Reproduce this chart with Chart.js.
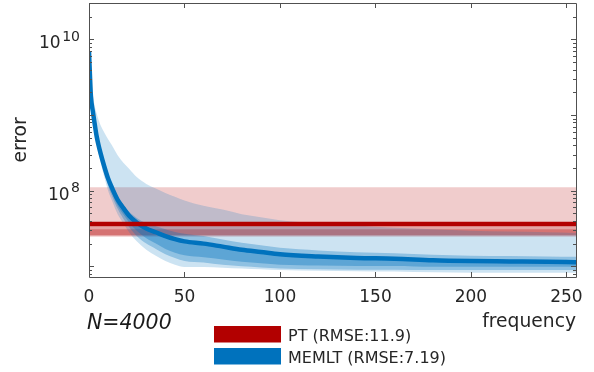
<!DOCTYPE html>
<html>
  <head>
    <meta charset="utf-8" />
    <title>error vs frequency</title>
    <script src="https://cdn.jsdelivr.net/npm/chart.js"></script>
    <style>
      * {
        box-sizing: border-box;
        margin: 0;
        padding: 0;
      }
      body {
        background: #fff;
      }
    </style>
  </head>
  <body>
    <canvas id="err" width="594" height="372"></canvas>

    <script>
      // frequency samples (x)
      const freq = [0, 1, 2, 3, 4, 5, 6, 8, 10, 12, 15, 18, 21, 25, 30, 35, 40, 45, 50, 60, 70, 80, 90, 100, 120, 140, 160, 180, 200, 220, 240, 255];

      // MEMLT, values as log10(error)
      const memltMed = [9.84, 9.25, 9.05, 8.88, 8.72, 8.6, 8.5, 8.32, 8.16, 8.04, 7.88, 7.77, 7.67, 7.58, 7.5, 7.45, 7.4, 7.36, 7.33, 7.3, 7.26, 7.22, 7.19, 7.16, 7.13, 7.11, 7.1, 7.08, 7.07, 7.065, 7.06, 7.055];
      const memltInnerHi = [9.84, 9.26, 9.065, 8.895, 8.735, 8.615, 8.515, 8.335, 8.175, 8.055, 7.895, 7.785, 7.685, 7.595, 7.515, 7.465, 7.415, 7.375, 7.345, 7.315, 7.275, 7.235, 7.205, 7.175, 7.145, 7.125, 7.115, 7.095, 7.085, 7.08, 7.075, 7.07];
      const memltInnerLo = [9.84, 9.23, 9.02, 8.845, 8.68, 8.555, 8.45, 8.26, 8.09, 7.965, 7.8, 7.685, 7.58, 7.47, 7.37, 7.3, 7.23, 7.18, 7.145, 7.12, 7.09, 7.06, 7.04, 7.02, 7.01, 7.005, 7.005, 6.995, 6.995, 6.995, 6.995, 6.995];
      const memltMidHi = [9.84, 9.27, 9.08, 8.91, 8.755, 8.635, 8.54, 8.36, 8.2, 8.08, 7.92, 7.815, 7.72, 7.64, 7.57, 7.53, 7.49, 7.455, 7.43, 7.4, 7.355, 7.31, 7.278, 7.245, 7.21, 7.185, 7.173, 7.152, 7.14, 7.135, 7.13, 7.125];
      const memltMidLo = [9.84, 9.22, 9.01, 8.83, 8.66, 8.53, 8.42, 8.23, 8.06, 7.93, 7.76, 7.63, 7.52, 7.4, 7.3, 7.23, 7.16, 7.11, 7.07, 7.05, 7.02, 7.0, 6.985, 6.97, 6.96, 6.955, 6.955, 6.95, 6.95, 6.95, 6.95, 6.95];
      const memltOuterHi = [9.84, 9.42, 9.27, 9.12, 9.02, 8.94, 8.87, 8.77, 8.68, 8.6, 8.47, 8.37, 8.29, 8.18, 8.09, 8.03, 7.97, 7.92, 7.87, 7.8, 7.75, 7.69, 7.65, 7.61, 7.57, 7.54, 7.51, 7.49, 7.47, 7.46, 7.45, 7.44];
      const memltOuterLo = [9.84, 9.21, 8.99, 8.8, 8.62, 8.49, 8.38, 8.18, 8.0, 7.87, 7.69, 7.57, 7.45, 7.33, 7.22, 7.14, 7.07, 7.02, 6.99, 6.99, 6.98, 6.97, 6.96, 6.95, 6.94, 6.935, 6.93, 6.92, 6.915, 6.915, 6.915, 6.915];

      // PT is flat over the whole range, log10(error)
      const ptFreq = [0, 255];
      const ptMed = [7.56, 7.56];
      const ptInnerLo = [7.415, 7.415];
      const ptInnerHi = [7.49, 7.49];
      const ptMidLo = [7.4, 7.4];
      const ptMidHi = [7.53, 7.53];
      const ptOuterLo = [7.39, 7.39];
      const ptOuterHi = [8.045, 8.045];

      const legendLabels = ["PT (RMSE:11.9)", "MEMLT (RMSE:7.19)"];
      const xTickValues = [0, 50, 100, 150, 200, 250];
      const yTickValues = [
        8e6, 9e6,
        1e7, 2e7, 3e7, 4e7, 5e7, 6e7, 7e7, 8e7, 9e7,
        1e8, 2e8, 3e8, 4e8, 5e8, 6e8, 7e8, 8e8, 9e8,
        1e9, 2e9, 3e9, 4e9, 5e9, 6e9, 7e9, 8e9, 9e9,
        1e10, 2e10, 3e10,
      ];
      // labelled decades: 10^8 and 10^10
      const yLabelValues = [1e8, 1e10];
      const yLabelExps = ["8", "10"];

      const RED = "rgb(178,0,0)";
      const BLUE = "rgb(0,114,189)";
      const FONT = '"DejaVu Sans"';

      const pts = (xs, ys) => xs.map((x, i) => ({ x: x, y: Math.pow(10, ys[i]) }));

      const line = (label, xs, ys, color) => ({
        label: label,
        data: pts(xs, ys),
        borderColor: color,
        backgroundColor: color,
        borderWidth: 4.5,
        fill: false,
      });
      // a pair of datasets, the second one fills down to the first
      const band = (xs, lo, hi, fillColor) => [
        { data: pts(xs, lo), borderWidth: 0, borderColor: "transparent", fill: false },
        { data: pts(xs, hi), borderWidth: 0, borderColor: "transparent", backgroundColor: fillColor, fill: "-1" },
      ];

      const datasets = [
        line(legendLabels[0], ptFreq, ptMed, RED),
        line(legendLabels[1], freq, memltMed, BLUE),
        ...band(freq, memltInnerLo, memltInnerHi, "rgba(0,114,189,0.35)"),
        ...band(freq, memltMidLo, memltMidHi, "rgba(0,114,189,0.3)"),
        ...band(freq, memltOuterLo, memltOuterHi, "rgba(0,114,189,0.2)"),
        ...band(ptFreq, ptInnerLo, ptInnerHi, "rgba(178,0,0,0.3)"),
        ...band(ptFreq, ptMidLo, ptMidHi, "rgba(178,0,0,0.2)"),
        ...band(ptFreq, ptOuterLo, ptOuterHi, "rgba(178,0,0,0.2)"),
      ];

      // MATLAB style box with inward ticks, 10^n labels, legend and the N label
      const matlabAxes = {
        id: "matlabAxes",
        afterDatasetsDraw(chart) {
          const { ctx, chartArea: a, scales } = chart;
          ctx.save();
          ctx.strokeStyle = "#505050";
          ctx.lineWidth = 1;
          ctx.beginPath();
          ctx.rect(a.left + 0.5, a.top + 0.5, a.right - a.left, a.bottom - a.top);
          scales.y.ticks.forEach((t) => {
            const py = Math.round(scales.y.getPixelForValue(t.value)) + 0.5;
            const e = Math.log10(t.value);
            const len = Math.abs(e - Math.round(e)) < 1e-9 ? 5 : 3;
            ctx.moveTo(a.left, py);
            ctx.lineTo(a.left + len, py);
            ctx.moveTo(a.right, py);
            ctx.lineTo(a.right - len, py);
          });
          scales.x.ticks.forEach((t) => {
            const px = Math.round(scales.x.getPixelForValue(t.value)) + 0.5;
            ctx.moveTo(px, a.bottom);
            ctx.lineTo(px, a.bottom - 5);
            ctx.moveTo(px, a.top);
            ctx.lineTo(px, a.top + 5);
          });
          ctx.stroke();

          // y tick labels as 10 with a raised exponent
          ctx.fillStyle = "#262626";
          ctx.textBaseline = "alphabetic";
          ctx.textAlign = "left";
          const right = a.left - 9;
          yLabelValues.forEach((v, i) => {
            const py = scales.y.getPixelForValue(v);
            ctx.font = "14px " + FONT;
            const ew = ctx.measureText(yLabelExps[i]).width;
            ctx.fillText(yLabelExps[i], right - ew, py + 1.7);
            ctx.font = "17px " + FONT;
            const bw = ctx.measureText("10").width;
            ctx.fillText("10", right - ew - 1.5 - bw, py + 9);
          });
          ctx.restore();
        },
        afterDraw(chart) {
          const ctx = chart.ctx;
          ctx.save();
          ctx.fillStyle = "#1a1a1a";
          ctx.font = "italic 20.5px " + FONT;
          ctx.textBaseline = "alphabetic";
          ctx.fillText("N=4000", 87, 329);

          const colors = [RED, BLUE];
          ctx.font = "16px " + FONT;
          legendLabels.forEach((label, i) => {
            const y = 326 + i * 22;
            ctx.fillStyle = colors[i];
            ctx.fillRect(214, y, 67, 16.5);
            ctx.fillStyle = "#262626";
            ctx.fillText(label, 288, y + 15);
          });
          ctx.restore();
        },
      };

      new Chart(document.getElementById("err"), {
        type: "line",
        data: { datasets: datasets },
        plugins: [matlabAxes],
        options: {
          responsive: false,
          animation: false,
          layout: { padding: { top: 3, right: 18, left: 0, bottom: 0 } },
          elements: {
            point: { radius: 0 },
            line: { cubicInterpolationMode: "monotone" },
          },
          scales: {
            x: {
              type: "linear",
              min: 0,
              max: 255,
              grid: { display: false, drawTicks: false },
              border: { display: false },
              afterBuildTicks: (s) => {
                s.ticks = xTickValues.map((v) => ({ value: v }));
              },
              afterFit: (s) => {
                s.height = 95;
                s.paddingLeft = 0;
                s.paddingRight = 0;
              },
              ticks: {
                autoSkip: false,
                maxRotation: 0,
                padding: 10,
                color: "#262626",
                font: { size: 17, family: FONT },
              },
              title: {
                display: true,
                text: "frequency",
                align: "end",
                color: "#262626",
                font: { size: 18.7, family: FONT },
                padding: { top: 0, bottom: 39 },
              },
            },
            y: {
              type: "logarithmic",
              min: 7.219e6,
              max: 3.039e10,
              grid: { display: false, drawTicks: false },
              border: { display: false },
              afterBuildTicks: (s) => {
                s.ticks = yTickValues.map((v) => ({ value: v }));
              },
              afterFit: (s) => {
                s.width = 89;
                s.paddingTop = 0;
                s.paddingBottom = 0;
              },
              ticks: {
                autoSkip: false,
                display: false,
              },
              title: {
                display: true,
                text: "error",
                color: "#262626",
                font: { size: 18.7, family: FONT },
                padding: { top: 10, bottom: 0 },
              },
            },
          },
          plugins: {
            legend: { display: false },
            tooltip: { enabled: false },
          },
        },
      });
    </script>
  </body>
</html>
